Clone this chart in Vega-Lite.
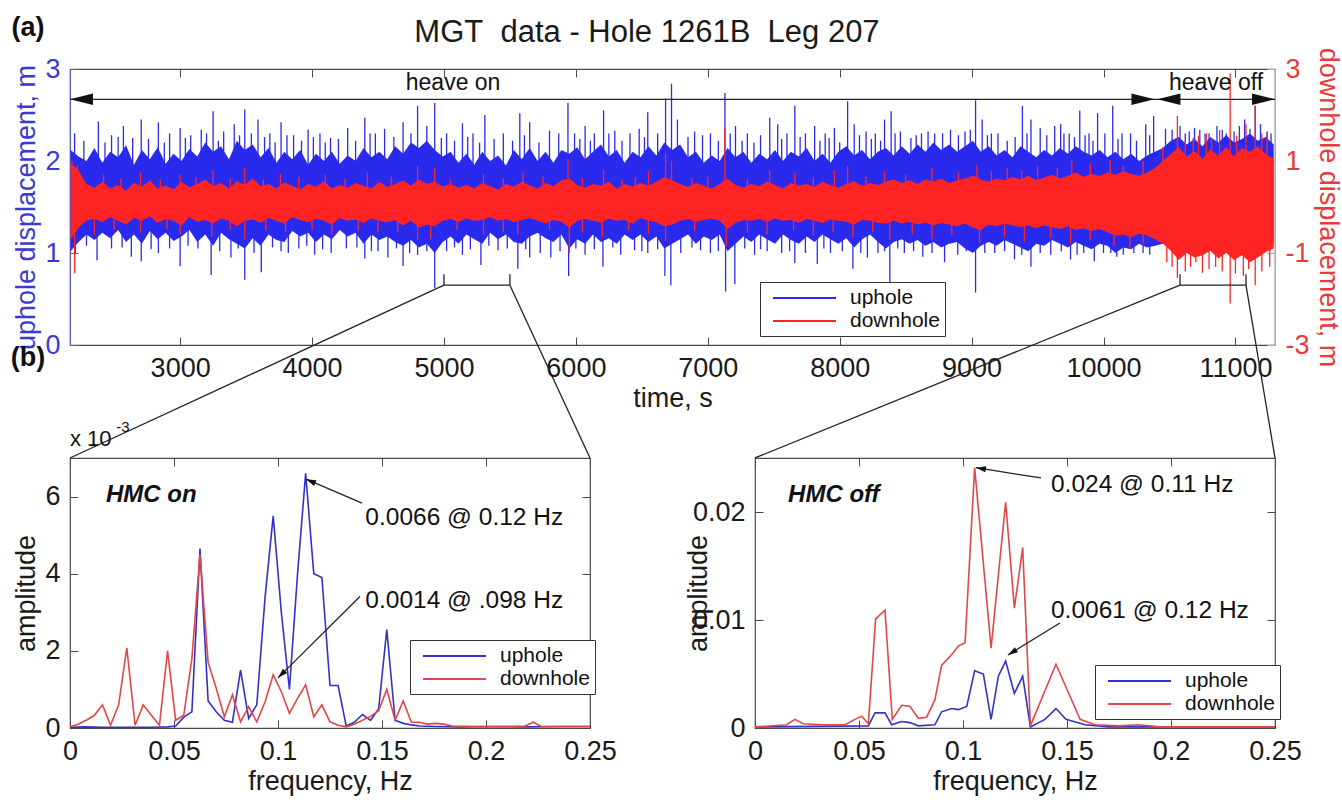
{
"$schema": "https://vega.github.io/schema/vega-lite/v6.json",
"padding": {"left": 10, "top": 12, "right": 10, "bottom": 10},
"background": "white",
"config": {
  "font": "Liberation Sans",
  "view": {"stroke": "#4a4a4a", "strokeWidth": 1.2},
  "axis": {"grid": false, "labelFlush": false, "labelFontSize": 27, "titleFontSize": 27, "titleFontWeight": "normal", "labelColor": "#1a1a1a", "titleColor": "#1a1a1a", "domainColor": "#4a4a4a", "tickColor": "#4a4a4a", "tickSize": -8, "labelPadding": 18, "titlePadding": 4, "labelFont": "Liberation Sans", "titleFont": "Liberation Sans"},
  "legend": {"symbolType": "M-0.3,0L6,0", "symbolStrokeWidth": 2, "symbolSize": 400, "labelFontSize": 21, "labelFont": "Liberation Sans", "labelColor": "#111", "strokeColor": "#333", "fillColor": "white", "padding": 5, "rowPadding": 2, "labelOffset": 63}
},
"datasets": {
"band": [
{"t":2170,"uhi":2.12,"ulo":1.02,"dhi":0.95,"dlo":-0.7},
{"t":2230,"uhi":2.05,"ulo":1.12,"dhi":0.8,"dlo":-0.45},
{"t":2290,"uhi":2.0,"ulo":1.2,"dhi":0.5,"dlo":-0.3},
{"t":2350,"uhi":2.14,"ulo":1.14,"dhi":0.42,"dlo":-0.25},
{"t":2410,"uhi":1.98,"ulo":1.22,"dhi":0.55,"dlo":-0.33},
{"t":2470,"uhi":2.1,"ulo":1.16,"dhi":0.4,"dlo":-0.22},
{"t":2530,"uhi":2.04,"ulo":1.25,"dhi":0.48,"dlo":-0.3},
{"t":2590,"uhi":2.17,"ulo":1.12,"dhi":0.36,"dlo":-0.38},
{"t":2650,"uhi":1.96,"ulo":1.2,"dhi":0.52,"dlo":-0.24},
{"t":2710,"uhi":2.12,"ulo":1.1,"dhi":0.44,"dlo":-0.3},
{"t":2770,"uhi":2.02,"ulo":1.24,"dhi":0.58,"dlo":-0.2},
{"t":2830,"uhi":2.15,"ulo":1.15,"dhi":0.4,"dlo":-0.35},
{"t":2890,"uhi":1.97,"ulo":1.22,"dhi":0.47,"dlo":-0.26},
{"t":2950,"uhi":2.08,"ulo":1.13,"dhi":0.38,"dlo":-0.3},
{"t":3010,"uhi":2.0,"ulo":1.18,"dhi":0.55,"dlo":-0.4},
{"t":3070,"uhi":2.13,"ulo":1.25,"dhi":0.43,"dlo":-0.22},
{"t":3130,"uhi":2.05,"ulo":1.12,"dhi":0.5,"dlo":-0.32},
{"t":3190,"uhi":2.2,"ulo":1.2,"dhi":0.6,"dlo":-0.28},
{"t":3250,"uhi":2.1,"ulo":1.08,"dhi":0.45,"dlo":-0.36},
{"t":3310,"uhi":2.16,"ulo":1.22,"dhi":0.52,"dlo":-0.25},
{"t":3370,"uhi":2.02,"ulo":1.15,"dhi":0.41,"dlo":-0.3},
{"t":3430,"uhi":2.22,"ulo":1.1,"dhi":0.56,"dlo":-0.42},
{"t":3490,"uhi":2.12,"ulo":1.05,"dhi":0.48,"dlo":-0.3},
{"t":3550,"uhi":2.18,"ulo":1.16,"dhi":0.62,"dlo":-0.27},
{"t":3610,"uhi":2.04,"ulo":1.08,"dhi":0.45,"dlo":-0.34},
{"t":3670,"uhi":2.14,"ulo":1.2,"dhi":0.5,"dlo":-0.24},
{"t":3730,"uhi":1.98,"ulo":1.14,"dhi":0.4,"dlo":-0.3},
{"t":3790,"uhi":2.1,"ulo":1.12,"dhi":0.53,"dlo":-0.36},
{"t":3850,"uhi":2.02,"ulo":1.24,"dhi":0.46,"dlo":-0.22},
{"t":3910,"uhi":2.12,"ulo":1.18,"dhi":0.38,"dlo":-0.28},
{"t":3970,"uhi":1.96,"ulo":1.22,"dhi":0.5,"dlo":-0.33},
{"t":4030,"uhi":2.08,"ulo":1.12,"dhi":0.44,"dlo":-0.25},
{"t":4090,"uhi":2.0,"ulo":1.2,"dhi":0.55,"dlo":-0.3},
{"t":4150,"uhi":2.1,"ulo":1.15,"dhi":0.4,"dlo":-0.38},
{"t":4210,"uhi":1.97,"ulo":1.25,"dhi":0.48,"dlo":-0.24},
{"t":4270,"uhi":2.06,"ulo":1.18,"dhi":0.42,"dlo":-0.3},
{"t":4330,"uhi":2.0,"ulo":1.22,"dhi":0.52,"dlo":-0.27},
{"t":4390,"uhi":2.14,"ulo":1.1,"dhi":0.46,"dlo":-0.35},
{"t":4450,"uhi":2.04,"ulo":1.2,"dhi":0.4,"dlo":-0.25},
{"t":4510,"uhi":2.1,"ulo":1.14,"dhi":0.55,"dlo":-0.3},
{"t":4570,"uhi":2.02,"ulo":1.18,"dhi":0.44,"dlo":-0.33},
{"t":4630,"uhi":2.16,"ulo":1.12,"dhi":0.5,"dlo":-0.28},
{"t":4690,"uhi":2.08,"ulo":1.08,"dhi":0.58,"dlo":-0.4},
{"t":4750,"uhi":2.2,"ulo":1.14,"dhi":0.46,"dlo":-0.3},
{"t":4810,"uhi":2.14,"ulo":1.06,"dhi":0.6,"dlo":-0.45},
{"t":4870,"uhi":2.22,"ulo":1.1,"dhi":0.5,"dlo":-0.38},
{"t":4930,"uhi":2.12,"ulo":1.0,"dhi":0.55,"dlo":-0.42},
{"t":4990,"uhi":2.05,"ulo":1.12,"dhi":0.44,"dlo":-0.3},
{"t":5050,"uhi":2.1,"ulo":1.18,"dhi":0.5,"dlo":-0.26},
{"t":5110,"uhi":1.98,"ulo":1.1,"dhi":0.42,"dlo":-0.32},
{"t":5170,"uhi":2.08,"ulo":1.2,"dhi":0.48,"dlo":-0.25},
{"t":5230,"uhi":1.96,"ulo":1.15,"dhi":0.4,"dlo":-0.3},
{"t":5290,"uhi":2.1,"ulo":1.1,"dhi":0.52,"dlo":-0.28},
{"t":5350,"uhi":2.0,"ulo":1.22,"dhi":0.45,"dlo":-0.22},
{"t":5410,"uhi":2.06,"ulo":1.15,"dhi":0.38,"dlo":-0.3},
{"t":5470,"uhi":1.95,"ulo":1.2,"dhi":0.5,"dlo":-0.26},
{"t":5530,"uhi":2.12,"ulo":1.12,"dhi":0.44,"dlo":-0.33},
{"t":5590,"uhi":2.02,"ulo":1.1,"dhi":0.55,"dlo":-0.28},
{"t":5650,"uhi":2.14,"ulo":1.18,"dhi":0.47,"dlo":-0.24},
{"t":5710,"uhi":2.0,"ulo":1.22,"dhi":0.4,"dlo":-0.3},
{"t":5770,"uhi":2.1,"ulo":1.16,"dhi":0.52,"dlo":-0.36},
{"t":5830,"uhi":1.98,"ulo":1.12,"dhi":0.45,"dlo":-0.28},
{"t":5890,"uhi":2.12,"ulo":1.2,"dhi":0.58,"dlo":-0.32},
{"t":5950,"uhi":2.08,"ulo":1.05,"dhi":0.62,"dlo":-0.45},
{"t":6010,"uhi":2.15,"ulo":1.15,"dhi":0.48,"dlo":-0.3},
{"t":6070,"uhi":2.02,"ulo":1.1,"dhi":0.42,"dlo":-0.26},
{"t":6130,"uhi":2.1,"ulo":1.2,"dhi":0.5,"dlo":-0.3},
{"t":6190,"uhi":2.18,"ulo":1.12,"dhi":0.46,"dlo":-0.34},
{"t":6250,"uhi":2.05,"ulo":1.16,"dhi":0.55,"dlo":-0.25},
{"t":6310,"uhi":2.12,"ulo":1.1,"dhi":0.4,"dlo":-0.3},
{"t":6370,"uhi":1.98,"ulo":1.2,"dhi":0.5,"dlo":-0.28},
{"t":6430,"uhi":2.1,"ulo":1.14,"dhi":0.44,"dlo":-0.36},
{"t":6490,"uhi":2.04,"ulo":1.2,"dhi":0.52,"dlo":-0.24},
{"t":6550,"uhi":2.16,"ulo":1.12,"dhi":0.46,"dlo":-0.3},
{"t":6610,"uhi":2.06,"ulo":1.18,"dhi":0.55,"dlo":-0.33},
{"t":6670,"uhi":2.2,"ulo":1.05,"dhi":0.65,"dlo":-0.42},
{"t":6730,"uhi":2.12,"ulo":1.1,"dhi":0.58,"dlo":-0.38},
{"t":6790,"uhi":2.18,"ulo":1.15,"dhi":0.5,"dlo":-0.3},
{"t":6850,"uhi":2.04,"ulo":1.2,"dhi":0.44,"dlo":-0.26},
{"t":6910,"uhi":2.1,"ulo":1.1,"dhi":0.52,"dlo":-0.32},
{"t":6970,"uhi":1.98,"ulo":1.18,"dhi":0.46,"dlo":-0.28},
{"t":7030,"uhi":2.06,"ulo":1.14,"dhi":0.4,"dlo":-0.25},
{"t":7090,"uhi":2.0,"ulo":1.2,"dhi":0.5,"dlo":-0.3},
{"t":7150,"uhi":2.14,"ulo":1.02,"dhi":0.62,"dlo":-0.48},
{"t":7210,"uhi":2.04,"ulo":1.1,"dhi":0.48,"dlo":-0.35},
{"t":7270,"uhi":2.1,"ulo":1.18,"dhi":0.42,"dlo":-0.28},
{"t":7330,"uhi":1.98,"ulo":1.12,"dhi":0.5,"dlo":-0.3},
{"t":7390,"uhi":2.08,"ulo":1.2,"dhi":0.45,"dlo":-0.26},
{"t":7450,"uhi":2.02,"ulo":1.15,"dhi":0.55,"dlo":-0.32},
{"t":7510,"uhi":2.12,"ulo":1.1,"dhi":0.48,"dlo":-0.25},
{"t":7570,"uhi":2.0,"ulo":1.2,"dhi":0.4,"dlo":-0.3},
{"t":7630,"uhi":2.1,"ulo":1.14,"dhi":0.52,"dlo":-0.28},
{"t":7690,"uhi":2.05,"ulo":1.1,"dhi":0.46,"dlo":-0.34},
{"t":7750,"uhi":2.14,"ulo":1.18,"dhi":0.5,"dlo":-0.26},
{"t":7810,"uhi":2.0,"ulo":1.12,"dhi":0.44,"dlo":-0.3},
{"t":7870,"uhi":2.08,"ulo":1.2,"dhi":0.55,"dlo":-0.35},
{"t":7930,"uhi":1.98,"ulo":1.15,"dhi":0.48,"dlo":-0.27},
{"t":7990,"uhi":2.1,"ulo":1.1,"dhi":0.42,"dlo":-0.3},
{"t":8050,"uhi":2.16,"ulo":1.16,"dhi":0.5,"dlo":-0.32},
{"t":8110,"uhi":2.06,"ulo":1.06,"dhi":0.56,"dlo":-0.38},
{"t":8170,"uhi":2.12,"ulo":1.15,"dhi":0.46,"dlo":-0.28},
{"t":8230,"uhi":2.02,"ulo":1.2,"dhi":0.52,"dlo":-0.3},
{"t":8290,"uhi":2.1,"ulo":1.12,"dhi":0.48,"dlo":-0.34},
{"t":8350,"uhi":2.14,"ulo":1.05,"dhi":0.55,"dlo":-0.36},
{"t":8410,"uhi":2.06,"ulo":1.12,"dhi":0.6,"dlo":-0.3},
{"t":8470,"uhi":2.16,"ulo":1.15,"dhi":0.52,"dlo":-0.36},
{"t":8530,"uhi":2.08,"ulo":1.1,"dhi":0.58,"dlo":-0.32},
{"t":8590,"uhi":2.18,"ulo":1.14,"dhi":0.5,"dlo":-0.38},
{"t":8650,"uhi":2.1,"ulo":1.08,"dhi":0.6,"dlo":-0.34},
{"t":8710,"uhi":2.2,"ulo":1.12,"dhi":0.55,"dlo":-0.4},
{"t":8770,"uhi":2.12,"ulo":1.06,"dhi":0.62,"dlo":-0.35},
{"t":8830,"uhi":2.18,"ulo":1.1,"dhi":0.52,"dlo":-0.38},
{"t":8890,"uhi":2.1,"ulo":1.12,"dhi":0.58,"dlo":-0.42},
{"t":8950,"uhi":2.16,"ulo":1.05,"dhi":0.62,"dlo":-0.36},
{"t":9010,"uhi":2.22,"ulo":1.0,"dhi":0.68,"dlo":-0.45},
{"t":9070,"uhi":2.1,"ulo":1.08,"dhi":0.6,"dlo":-0.5},
{"t":9130,"uhi":2.16,"ulo":1.12,"dhi":0.55,"dlo":-0.38},
{"t":9190,"uhi":2.06,"ulo":1.08,"dhi":0.62,"dlo":-0.42},
{"t":9250,"uhi":2.12,"ulo":1.14,"dhi":0.58,"dlo":-0.36},
{"t":9310,"uhi":2.04,"ulo":1.1,"dhi":0.65,"dlo":-0.4},
{"t":9370,"uhi":2.16,"ulo":1.06,"dhi":0.6,"dlo":-0.44},
{"t":9430,"uhi":2.1,"ulo":1.02,"dhi":0.68,"dlo":-0.4},
{"t":9490,"uhi":2.04,"ulo":1.1,"dhi":0.58,"dlo":-0.46},
{"t":9550,"uhi":2.12,"ulo":1.08,"dhi":0.64,"dlo":-0.4},
{"t":9610,"uhi":2.06,"ulo":1.14,"dhi":0.7,"dlo":-0.44},
{"t":9670,"uhi":2.14,"ulo":1.1,"dhi":0.62,"dlo":-0.48},
{"t":9730,"uhi":2.08,"ulo":1.06,"dhi":0.68,"dlo":-0.42},
{"t":9790,"uhi":2.16,"ulo":1.12,"dhi":0.75,"dlo":-0.5},
{"t":9850,"uhi":2.1,"ulo":1.08,"dhi":0.66,"dlo":-0.46},
{"t":9910,"uhi":2.06,"ulo":1.04,"dhi":0.72,"dlo":-0.52},
{"t":9970,"uhi":2.12,"ulo":1.1,"dhi":0.68,"dlo":-0.48},
{"t":10030,"uhi":2.04,"ulo":1.08,"dhi":0.75,"dlo":-0.55},
{"t":10090,"uhi":2.1,"ulo":1.0,"dhi":0.7,"dlo":-0.62},
{"t":10150,"uhi":2.02,"ulo":1.06,"dhi":0.78,"dlo":-0.6},
{"t":10210,"uhi":2.08,"ulo":1.04,"dhi":0.72,"dlo":-0.66},
{"t":10270,"uhi":2.0,"ulo":1.1,"dhi":0.68,"dlo":-0.58},
{"t":10330,"uhi":2.06,"ulo":1.06,"dhi":0.75,"dlo":-0.62},
{"t":10390,"uhi":2.1,"ulo":1.08,"dhi":0.85,"dlo":-0.7},
{"t":10450,"uhi":2.14,"ulo":1.1,"dhi":1.0,"dlo":-0.8},
{"t":10510,"uhi":2.22,"ulo":1.1,"dhi":1.15,"dlo":-0.95},
{"t":10570,"uhi":2.26,"ulo":1.1,"dhi":1.3,"dlo":-1.15},
{"t":10630,"uhi":2.18,"ulo":1.1,"dhi":1.1,"dlo":-1.0},
{"t":10690,"uhi":2.24,"ulo":1.1,"dhi":1.22,"dlo":-1.1},
{"t":10750,"uhi":2.16,"ulo":1.1,"dhi":1.05,"dlo":-1.05},
{"t":10810,"uhi":2.26,"ulo":1.1,"dhi":1.25,"dlo":-0.95},
{"t":10870,"uhi":2.2,"ulo":1.1,"dhi":1.12,"dlo":-1.12},
{"t":10930,"uhi":2.28,"ulo":1.1,"dhi":1.3,"dlo":-1.0},
{"t":10990,"uhi":2.2,"ulo":1.1,"dhi":1.1,"dlo":-1.15},
{"t":11050,"uhi":2.24,"ulo":1.1,"dhi":1.28,"dlo":-1.05},
{"t":11110,"uhi":2.3,"ulo":1.1,"dhi":1.2,"dlo":-1.2},
{"t":11170,"uhi":2.22,"ulo":1.1,"dhi":1.32,"dlo":-1.1},
{"t":11230,"uhi":2.26,"ulo":1.1,"dhi":1.15,"dlo":-0.98},
{"t":11290,"uhi":2.18,"ulo":1.1,"dhi":1.05,"dlo":-0.9}
],
"spk": [
{"t":2200,"v":2.3,"s":"u"},{"t":2380,"v":2.43,"s":"u"},{"t":2480,"v":2.28,"s":"u"},{"t":2570,"v":2.38,"s":"u"},{"t":2640,"v":2.25,"s":"u"},{"t":2705,"v":2.45,"s":"u"},{"t":2835,"v":2.42,"s":"u"},{"t":2920,"v":2.3,"s":"u"},{"t":3000,"v":2.36,"s":"u"},{"t":3080,"v":2.28,"s":"u"},{"t":3160,"v":2.34,"s":"u"},{"t":3250,"v":2.54,"s":"u"},{"t":3330,"v":2.32,"s":"u"},{"t":3410,"v":2.4,"s":"u"},{"t":3490,"v":2.56,"s":"u"},{"t":3590,"v":2.45,"s":"u"},{"t":3680,"v":2.3,"s":"u"},{"t":3765,"v":2.42,"s":"u"},{"t":3860,"v":2.28,"s":"u"},{"t":3970,"v":2.34,"s":"u"},{"t":4060,"v":2.3,"s":"u"},{"t":4140,"v":2.25,"s":"u"},{"t":4270,"v":2.36,"s":"u"},{"t":4400,"v":2.47,"s":"u"},{"t":4480,"v":2.3,"s":"u"},{"t":4550,"v":2.35,"s":"u"},{"t":4690,"v":2.42,"s":"u"},{"t":4800,"v":2.6,"s":"u"},{"t":4870,"v":2.38,"s":"u"},{"t":4930,"v":2.63,"s":"u"},{"t":5020,"v":2.3,"s":"u"},{"t":5140,"v":2.41,"s":"u"},{"t":5220,"v":2.3,"s":"u"},{"t":5310,"v":2.5,"s":"u"},{"t":5450,"v":2.3,"s":"u"},{"t":5575,"v":2.52,"s":"u"},{"t":5650,"v":2.42,"s":"u"},{"t":5800,"v":2.33,"s":"u"},{"t":5870,"v":2.3,"s":"u"},{"t":5940,"v":2.63,"s":"u"},{"t":6070,"v":2.38,"s":"u"},{"t":6140,"v":2.3,"s":"u"},{"t":6210,"v":2.55,"s":"u"},{"t":6295,"v":2.33,"s":"u"},{"t":6410,"v":2.3,"s":"u"},{"t":6480,"v":2.35,"s":"u"},{"t":6545,"v":2.53,"s":"u"},{"t":6680,"v":2.68,"s":"u"},{"t":6725,"v":2.84,"s":"u"},{"t":6770,"v":2.45,"s":"u"},{"t":6900,"v":2.32,"s":"u"},{"t":6960,"v":2.28,"s":"u"},{"t":7020,"v":2.3,"s":"u"},{"t":7130,"v":2.74,"s":"u"},{"t":7210,"v":2.38,"s":"u"},{"t":7300,"v":2.3,"s":"u"},{"t":7400,"v":2.28,"s":"u"},{"t":7470,"v":2.47,"s":"u"},{"t":7530,"v":2.4,"s":"u"},{"t":7600,"v":2.3,"s":"u"},{"t":7660,"v":2.6,"s":"u"},{"t":7740,"v":2.3,"s":"u"},{"t":7810,"v":2.38,"s":"u"},{"t":7890,"v":2.3,"s":"u"},{"t":7960,"v":2.36,"s":"u"},{"t":8060,"v":2.65,"s":"u"},{"t":8110,"v":2.4,"s":"u"},{"t":8200,"v":2.32,"s":"u"},{"t":8270,"v":2.3,"s":"u"},{"t":8340,"v":2.45,"s":"u"},{"t":8390,"v":2.54,"s":"u"},{"t":8460,"v":2.32,"s":"u"},{"t":8540,"v":2.25,"s":"u"},{"t":8620,"v":2.3,"s":"u"},{"t":8720,"v":2.3,"s":"u"},{"t":8840,"v":2.34,"s":"u"},{"t":8950,"v":2.32,"s":"u"},{"t":9030,"v":2.66,"s":"u"},{"t":9080,"v":2.45,"s":"u"},{"t":9200,"v":2.3,"s":"u"},{"t":9270,"v":2.22,"s":"u"},{"t":9385,"v":2.6,"s":"u"},{"t":9450,"v":2.45,"s":"u"},{"t":9520,"v":2.36,"s":"u"},{"t":9630,"v":2.38,"s":"u"},{"t":9675,"v":2.4,"s":"u"},{"t":9740,"v":2.3,"s":"u"},{"t":9820,"v":2.55,"s":"u"},{"t":9890,"v":2.3,"s":"u"},{"t":9955,"v":2.52,"s":"u"},{"t":10070,"v":2.6,"s":"u"},{"t":10140,"v":2.3,"s":"u"},{"t":10205,"v":2.3,"s":"u"},{"t":10320,"v":2.4,"s":"u"},{"t":10380,"v":2.49,"s":"u"},{"t":10470,"v":2.35,"s":"u"},{"t":10580,"v":2.38,"s":"u"},{"t":10650,"v":2.32,"s":"u"},{"t":10730,"v":2.34,"s":"u"},{"t":10800,"v":2.3,"s":"u"},{"t":10860,"v":2.38,"s":"u"},{"t":10930,"v":2.3,"s":"u"},{"t":11070,"v":2.45,"s":"u"},{"t":11150,"v":2.6,"s":"u"},{"t":11190,"v":2.4,"s":"u"},{"t":11240,"v":2.32,"s":"u"},
{"t":2270,"v":2.22,"s":"u"},{"t":2430,"v":2.2,"s":"u"},{"t":2530,"v":2.26,"s":"u"},{"t":2760,"v":2.24,"s":"u"},{"t":2880,"v":2.2,"s":"u"},{"t":3040,"v":2.25,"s":"u"},{"t":3200,"v":2.3,"s":"u"},{"t":3290,"v":2.22,"s":"u"},{"t":3450,"v":2.28,"s":"u"},{"t":3540,"v":2.3,"s":"u"},{"t":3640,"v":2.26,"s":"u"},{"t":3720,"v":2.2,"s":"u"},{"t":3810,"v":2.28,"s":"u"},{"t":3920,"v":2.22,"s":"u"},{"t":4010,"v":2.26,"s":"u"},{"t":4100,"v":2.2,"s":"u"},{"t":4200,"v":2.24,"s":"u"},{"t":4330,"v":2.22,"s":"u"},{"t":4440,"v":2.3,"s":"u"},{"t":4620,"v":2.26,"s":"u"},{"t":4750,"v":2.3,"s":"u"},{"t":4980,"v":2.25,"s":"u"},{"t":5080,"v":2.22,"s":"u"},{"t":5180,"v":2.26,"s":"u"},{"t":5270,"v":2.2,"s":"u"},{"t":5380,"v":2.24,"s":"u"},{"t":5520,"v":2.22,"s":"u"},{"t":5610,"v":2.28,"s":"u"},{"t":5720,"v":2.2,"s":"u"},{"t":5990,"v":2.3,"s":"u"},{"t":6030,"v":2.24,"s":"u"},{"t":6110,"v":2.22,"s":"u"},{"t":6250,"v":2.3,"s":"u"},{"t":6350,"v":2.22,"s":"u"},{"t":6520,"v":2.26,"s":"u"},{"t":6620,"v":2.3,"s":"u"},{"t":6850,"v":2.26,"s":"u"},{"t":7080,"v":2.22,"s":"u"},{"t":7170,"v":2.3,"s":"u"},{"t":7260,"v":2.22,"s":"u"},{"t":7350,"v":2.2,"s":"u"},{"t":7560,"v":2.24,"s":"u"},{"t":7700,"v":2.26,"s":"u"},{"t":7850,"v":2.22,"s":"u"},{"t":7920,"v":2.25,"s":"u"},{"t":8000,"v":2.2,"s":"u"},{"t":8150,"v":2.28,"s":"u"},{"t":8240,"v":2.24,"s":"u"},{"t":8310,"v":2.22,"s":"u"},{"t":8420,"v":2.3,"s":"u"},{"t":8580,"v":2.28,"s":"u"},{"t":8670,"v":2.32,"s":"u"},{"t":8780,"v":2.3,"s":"u"},{"t":8900,"v":2.28,"s":"u"},{"t":8990,"v":2.34,"s":"u"},{"t":9120,"v":2.28,"s":"u"},{"t":9150,"v":2.3,"s":"u"},{"t":9330,"v":2.26,"s":"u"},{"t":9420,"v":2.3,"s":"u"},{"t":9570,"v":2.28,"s":"u"},{"t":9700,"v":2.3,"s":"u"},{"t":9780,"v":2.26,"s":"u"},{"t":9860,"v":2.28,"s":"u"},{"t":9920,"v":2.22,"s":"u"},{"t":10010,"v":2.3,"s":"u"},{"t":10110,"v":2.24,"s":"u"},{"t":10250,"v":2.22,"s":"u"},{"t":10350,"v":2.28,"s":"u"},{"t":10520,"v":2.34,"s":"u"},{"t":10620,"v":2.3,"s":"u"},{"t":10690,"v":2.36,"s":"u"},{"t":10770,"v":2.3,"s":"u"},{"t":10900,"v":2.34,"s":"u"},{"t":10990,"v":2.32,"s":"u"},{"t":11030,"v":2.38,"s":"u"},{"t":11110,"v":2.35,"s":"u"},{"t":11270,"v":2.3,"s":"u"},
{"t":2205,"v":1.0,"s":"u"},{"t":2370,"v":0.92,"s":"u"},{"t":2480,"v":1.05,"s":"u"},{"t":2630,"v":0.96,"s":"u"},{"t":2705,"v":0.91,"s":"u"},{"t":2835,"v":1.0,"s":"u"},{"t":2920,"v":1.05,"s":"u"},{"t":3000,"v":0.86,"s":"u"},{"t":3135,"v":1.05,"s":"u"},{"t":3235,"v":0.76,"s":"u"},{"t":3385,"v":0.95,"s":"u"},{"t":3490,"v":0.71,"s":"u"},{"t":3615,"v":0.79,"s":"u"},{"t":3765,"v":1.02,"s":"u"},{"t":3820,"v":1.0,"s":"u"},{"t":3900,"v":1.05,"s":"u"},{"t":4020,"v":0.98,"s":"u"},{"t":4145,"v":1.0,"s":"u"},{"t":4260,"v":1.05,"s":"u"},{"t":4400,"v":0.94,"s":"u"},{"t":4500,"v":1.02,"s":"u"},{"t":4575,"v":0.95,"s":"u"},{"t":4690,"v":0.86,"s":"u"},{"t":4800,"v":0.98,"s":"u"},{"t":4930,"v":0.62,"s":"u"},{"t":5020,"v":1.02,"s":"u"},{"t":5140,"v":0.98,"s":"u"},{"t":5280,"v":0.87,"s":"u"},{"t":5410,"v":1.03,"s":"u"},{"t":5480,"v":1.05,"s":"u"},{"t":5560,"v":0.83,"s":"u"},{"t":5650,"v":0.95,"s":"u"},{"t":5730,"v":1.0,"s":"u"},{"t":5810,"v":0.95,"s":"u"},{"t":5945,"v":0.75,"s":"u"},{"t":6070,"v":0.98,"s":"u"},{"t":6205,"v":0.85,"s":"u"},{"t":6340,"v":0.98,"s":"u"},{"t":6445,"v":1.03,"s":"u"},{"t":6545,"v":1.0,"s":"u"},{"t":6675,"v":0.75,"s":"u"},{"t":6720,"v":0.65,"s":"u"},{"t":6795,"v":1.0,"s":"u"},{"t":6945,"v":1.03,"s":"u"},{"t":7020,"v":1.0,"s":"u"},{"t":7135,"v":0.58,"s":"u"},{"t":7205,"v":0.66,"s":"u"},{"t":7355,"v":0.98,"s":"u"},{"t":7450,"v":1.02,"s":"u"},{"t":7560,"v":1.0,"s":"u"},{"t":7660,"v":0.89,"s":"u"},{"t":7740,"v":1.0,"s":"u"},{"t":7830,"v":0.88,"s":"u"},{"t":7930,"v":1.0,"s":"u"},{"t":8020,"v":1.02,"s":"u"},{"t":8100,"v":0.83,"s":"u"},{"t":8210,"v":0.95,"s":"u"},{"t":8290,"v":1.0,"s":"u"},{"t":8380,"v":0.6,"s":"u"},{"t":8490,"v":1.0,"s":"u"},{"t":8630,"v":0.96,"s":"u"},{"t":8795,"v":0.9,"s":"u"},{"t":8895,"v":0.98,"s":"u"},{"t":9030,"v":0.57,"s":"u"},{"t":9175,"v":1.0,"s":"u"},{"t":9325,"v":0.93,"s":"u"},{"t":9450,"v":0.85,"s":"u"},{"t":9600,"v":0.98,"s":"u"},{"t":9750,"v":0.93,"s":"u"},{"t":9850,"v":1.0,"s":"u"},{"t":9930,"v":0.91,"s":"u"},{"t":10055,"v":1.0,"s":"u"},{"t":10150,"v":0.98,"s":"u"},{"t":10300,"v":1.0,"s":"u"},
{"t":2290,"v":1.08,"s":"u"},{"t":2560,"v":1.06,"s":"u"},{"t":2780,"v":1.04,"s":"u"},{"t":3060,"v":1.08,"s":"u"},{"t":3300,"v":1.02,"s":"u"},{"t":3440,"v":1.05,"s":"u"},{"t":3560,"v":1.0,"s":"u"},{"t":3700,"v":1.06,"s":"u"},{"t":3960,"v":1.08,"s":"u"},{"t":4080,"v":1.04,"s":"u"},{"t":4340,"v":1.06,"s":"u"},{"t":4450,"v":1.02,"s":"u"},{"t":4640,"v":1.05,"s":"u"},{"t":4740,"v":1.0,"s":"u"},{"t":4870,"v":1.02,"s":"u"},{"t":5080,"v":1.06,"s":"u"},{"t":5200,"v":1.04,"s":"u"},{"t":5340,"v":1.08,"s":"u"},{"t":5620,"v":1.04,"s":"u"},{"t":5880,"v":1.02,"s":"u"},{"t":6000,"v":1.05,"s":"u"},{"t":6140,"v":1.04,"s":"u"},{"t":6280,"v":1.06,"s":"u"},{"t":6500,"v":1.02,"s":"u"},{"t":6620,"v":1.04,"s":"u"},{"t":6880,"v":1.06,"s":"u"},{"t":7080,"v":1.02,"s":"u"},{"t":7280,"v":1.05,"s":"u"},{"t":7400,"v":1.04,"s":"u"},{"t":7620,"v":1.02,"s":"u"},{"t":7880,"v":1.05,"s":"u"},{"t":8160,"v":1.0,"s":"u"},{"t":8340,"v":1.02,"s":"u"},{"t":8440,"v":1.05,"s":"u"},{"t":8560,"v":1.02,"s":"u"},{"t":8700,"v":1.0,"s":"u"},{"t":8960,"v":1.02,"s":"u"},{"t":9100,"v":1.0,"s":"u"},{"t":9250,"v":1.02,"s":"u"},{"t":9380,"v":0.98,"s":"u"},{"t":9520,"v":1.0,"s":"u"},{"t":9680,"v":1.02,"s":"u"},{"t":9800,"v":0.98,"s":"u"},{"t":10000,"v":1.0,"s":"u"},{"t":10100,"v":0.96,"s":"u"},{"t":10230,"v":1.0,"s":"u"},{"t":10350,"v":0.98,"s":"u"},
{"t":2180,"v":1.0,"s":"d"},{"t":2220,"v":0.9,"s":"d"},{"t":2420,"v":0.7,"s":"d"},{"t":2700,"v":0.75,"s":"d"},{"t":3000,"v":0.7,"s":"d"},{"t":3250,"v":0.8,"s":"d"},{"t":3490,"v":0.85,"s":"d"},{"t":3760,"v":0.72,"s":"d"},{"t":4100,"v":0.7,"s":"d"},{"t":4420,"v":0.75,"s":"d"},{"t":4800,"v":0.9,"s":"d"},{"t":4930,"v":0.85,"s":"d"},{"t":5300,"v":0.72,"s":"d"},{"t":5600,"v":0.75,"s":"d"},{"t":5940,"v":1.03,"s":"d"},{"t":6210,"v":0.8,"s":"d"},{"t":6550,"v":0.78,"s":"d"},{"t":6680,"v":1.17,"s":"d"},{"t":6725,"v":1.0,"s":"d"},{"t":7130,"v":1.72,"s":"d"},{"t":7470,"v":0.8,"s":"d"},{"t":7660,"v":0.75,"s":"d"},{"t":7960,"v":0.8,"s":"d"},{"t":8060,"v":0.9,"s":"d"},{"t":8340,"v":0.75,"s":"d"},{"t":8700,"v":0.85,"s":"d"},{"t":9040,"v":0.92,"s":"d"},{"t":9270,"v":0.85,"s":"d"},{"t":9500,"v":0.9,"s":"d"},{"t":9760,"v":1.0,"s":"d"},{"t":9900,"v":0.95,"s":"d"},{"t":10050,"v":1.02,"s":"d"},{"t":10300,"v":1.0,"s":"d"},{"t":10560,"v":1.98,"s":"d"},{"t":10680,"v":1.5,"s":"d"},{"t":10780,"v":1.6,"s":"d"},{"t":10880,"v":1.67,"s":"d"},{"t":10960,"v":2.9,"s":"d"},{"t":11080,"v":1.8,"s":"d"},{"t":11150,"v":2.2,"s":"d"},{"t":11240,"v":1.6,"s":"d"},
{"t":2550,"v":0.62,"s":"d"},{"t":2850,"v":0.6,"s":"d"},{"t":3120,"v":0.65,"s":"d"},{"t":3380,"v":0.62,"s":"d"},{"t":3630,"v":0.6,"s":"d"},{"t":3900,"v":0.65,"s":"d"},{"t":4250,"v":0.62,"s":"d"},{"t":4600,"v":0.66,"s":"d"},{"t":5050,"v":0.6,"s":"d"},{"t":5450,"v":0.62,"s":"d"},{"t":5750,"v":0.66,"s":"d"},{"t":6050,"v":0.62,"s":"d"},{"t":6350,"v":0.6,"s":"d"},{"t":6450,"v":0.65,"s":"d"},{"t":6880,"v":0.62,"s":"d"},{"t":7000,"v":0.66,"s":"d"},{"t":7300,"v":0.6,"s":"d"},{"t":7800,"v":0.64,"s":"d"},{"t":8200,"v":0.66,"s":"d"},{"t":8500,"v":0.7,"s":"d"},{"t":8900,"v":0.75,"s":"d"},{"t":9150,"v":0.78,"s":"d"},{"t":9380,"v":0.8,"s":"d"},{"t":9650,"v":0.85,"s":"d"},{"t":10150,"v":0.9,"s":"d"},{"t":10450,"v":1.3,"s":"d"},{"t":10620,"v":1.45,"s":"d"},{"t":10720,"v":1.55,"s":"d"},{"t":10820,"v":1.5,"s":"d"},{"t":11010,"v":1.55,"s":"d"},{"t":11200,"v":1.6,"s":"d"},
{"t":2200,"v":-1.44,"s":"d"},{"t":2350,"v":-0.6,"s":"d"},{"t":2700,"v":-0.55,"s":"d"},{"t":3000,"v":-0.6,"s":"d"},{"t":3240,"v":-0.65,"s":"d"},{"t":3490,"v":-0.7,"s":"d"},{"t":3800,"v":-0.55,"s":"d"},{"t":4150,"v":-0.6,"s":"d"},{"t":4500,"v":-0.55,"s":"d"},{"t":4800,"v":-0.72,"s":"d"},{"t":4900,"v":-0.7,"s":"d"},{"t":5300,"v":-0.6,"s":"d"},{"t":5560,"v":-0.6,"s":"d"},{"t":5950,"v":-1.0,"s":"d"},{"t":6200,"v":-0.65,"s":"d"},{"t":6680,"v":-0.75,"s":"d"},{"t":7140,"v":-0.85,"s":"d"},{"t":7450,"v":-0.6,"s":"d"},{"t":7800,"v":-0.62,"s":"d"},{"t":8100,"v":-0.65,"s":"d"},{"t":8380,"v":-0.7,"s":"d"},{"t":8700,"v":-0.7,"s":"d"},{"t":9060,"v":-0.8,"s":"d"},{"t":9400,"v":-0.75,"s":"d"},{"t":9750,"v":-0.8,"s":"d"},{"t":10080,"v":-0.85,"s":"d"},{"t":10200,"v":-0.9,"s":"d"},{"t":10480,"v":-1.2,"s":"d"},{"t":10560,"v":-1.54,"s":"d"},{"t":10660,"v":-1.3,"s":"d"},{"t":10750,"v":-1.43,"s":"d"},{"t":10850,"v":-1.3,"s":"d"},{"t":10960,"v":-2.1,"s":"d"},{"t":11060,"v":-1.5,"s":"d"},{"t":11150,"v":-1.7,"s":"d"},{"t":11260,"v":-1.3,"s":"d"},
{"t":2500,"v":-0.5,"s":"d"},{"t":2900,"v":-0.48,"s":"d"},{"t":3380,"v":-0.5,"s":"d"},{"t":3650,"v":-0.52,"s":"d"},{"t":4000,"v":-0.5,"s":"d"},{"t":4350,"v":-0.52,"s":"d"},{"t":4650,"v":-0.55,"s":"d"},{"t":5100,"v":-0.5,"s":"d"},{"t":5450,"v":-0.55,"s":"d"},{"t":5800,"v":-0.5,"s":"d"},{"t":6050,"v":-0.55,"s":"d"},{"t":6400,"v":-0.5,"s":"d"},{"t":6550,"v":-0.58,"s":"d"},{"t":6900,"v":-0.52,"s":"d"},{"t":7300,"v":-0.55,"s":"d"},{"t":7650,"v":-0.5,"s":"d"},{"t":7950,"v":-0.55,"s":"d"},{"t":8250,"v":-0.55,"s":"d"},{"t":8550,"v":-0.6,"s":"d"},{"t":8850,"v":-0.62,"s":"d"},{"t":9250,"v":-0.65,"s":"d"},{"t":9600,"v":-0.68,"s":"d"},{"t":9900,"v":-0.7,"s":"d"},{"t":10300,"v":-0.8,"s":"d"},{"t":10520,"v":-1.3,"s":"d"},{"t":10620,"v":-1.4,"s":"d"},{"t":10700,"v":-1.2,"s":"d"},{"t":10800,"v":-1.35,"s":"d"},{"t":10900,"v":-1.4,"s":"d"},{"t":11000,"v":-1.45,"s":"d"},{"t":11100,"v":-1.35,"s":"d"},{"t":11200,"v":-1.4,"s":"d"}
],
"on": [
{"f":0,"a":0.00002,"s":"uphole"},{"f":0.0078,"a":0.00003,"s":"uphole"},{"f":0.0156,"a":0.00002,"s":"uphole"},{"f":0.0234,"a":0.00002,"s":"uphole"},{"f":0.0313,"a":0.00002,"s":"uphole"},{"f":0.0391,"a":0.00002,"s":"uphole"},{"f":0.0469,"a":0.00003,"s":"uphole"},{"f":0.0508,"a":0.00005,"s":"uphole"},{"f":0.0547,"a":0.00028,"s":"uphole"},{"f":0.0586,"a":0.00042,"s":"uphole"},{"f":0.0625,"a":0.00465,"s":"uphole"},{"f":0.0664,"a":0.0007,"s":"uphole"},{"f":0.0703,"a":0.00042,"s":"uphole"},{"f":0.0742,"a":0.0002,"s":"uphole"},{"f":0.0781,"a":0.00015,"s":"uphole"},{"f":0.082,"a":0.0015,"s":"uphole"},{"f":0.0859,"a":0.00025,"s":"uphole"},{"f":0.0898,"a":0.0006,"s":"uphole"},{"f":0.0938,"a":0.0034,"s":"uphole"},{"f":0.0977,"a":0.0055,"s":"uphole"},{"f":0.1016,"a":0.003,"s":"uphole"},{"f":0.1055,"a":0.001,"s":"uphole"},{"f":0.1094,"a":0.004,"s":"uphole"},{"f":0.1133,"a":0.0066,"s":"uphole"},{"f":0.1172,"a":0.004,"s":"uphole"},{"f":0.1211,"a":0.0039,"s":"uphole"},{"f":0.125,"a":0.0011,"s":"uphole"},{"f":0.1289,"a":0.0011,"s":"uphole"},{"f":0.1328,"a":0.00005,"s":"uphole"},{"f":0.1367,"a":0.00015,"s":"uphole"},{"f":0.1406,"a":0.00035,"s":"uphole"},{"f":0.1445,"a":0.0002,"s":"uphole"},{"f":0.1484,"a":0.0005,"s":"uphole"},{"f":0.1523,"a":0.00255,"s":"uphole"},{"f":0.1563,"a":0.0002,"s":"uphole"},{"f":0.1602,"a":0.00012,"s":"uphole"},{"f":0.1641,"a":0.00008,"s":"uphole"},{"f":0.168,"a":0.00005,"s":"uphole"},{"f":0.1758,"a":0.00004,"s":"uphole"},{"f":0.1875,"a":0.00003,"s":"uphole"},{"f":0.2031,"a":0.00004,"s":"uphole"},{"f":0.2188,"a":0.00003,"s":"uphole"},{"f":0.2344,"a":0.00004,"s":"uphole"},{"f":0.25,"a":0.00004,"s":"uphole"},
{"f":0,"a":0.00003,"s":"downhole"},{"f":0.0039,"a":0.0001,"s":"downhole"},{"f":0.0078,"a":0.0002,"s":"downhole"},{"f":0.0117,"a":0.00033,"s":"downhole"},{"f":0.0156,"a":0.0006,"s":"downhole"},{"f":0.0195,"a":0.00007,"s":"downhole"},{"f":0.0234,"a":0.0006,"s":"downhole"},{"f":0.0273,"a":0.00208,"s":"downhole"},{"f":0.0313,"a":0.00007,"s":"downhole"},{"f":0.0352,"a":0.0006,"s":"downhole"},{"f":0.0391,"a":0.00033,"s":"downhole"},{"f":0.043,"a":0.00007,"s":"downhole"},{"f":0.0469,"a":0.002,"s":"downhole"},{"f":0.0508,"a":0.0002,"s":"downhole"},{"f":0.0547,"a":0.00033,"s":"downhole"},{"f":0.0586,"a":0.0018,"s":"downhole"},{"f":0.0625,"a":0.0045,"s":"downhole"},{"f":0.0664,"a":0.0017,"s":"downhole"},{"f":0.0703,"a":0.00103,"s":"downhole"},{"f":0.0742,"a":0.00029,"s":"downhole"},{"f":0.0781,"a":0.00086,"s":"downhole"},{"f":0.082,"a":0.00016,"s":"downhole"},{"f":0.0859,"a":0.00055,"s":"downhole"},{"f":0.0898,"a":0.00016,"s":"downhole"},{"f":0.0938,"a":0.00068,"s":"downhole"},{"f":0.0977,"a":0.00138,"s":"downhole"},{"f":0.1016,"a":0.00094,"s":"downhole"},{"f":0.1055,"a":0.00038,"s":"downhole"},{"f":0.1094,"a":0.00077,"s":"downhole"},{"f":0.1133,"a":0.00112,"s":"downhole"},{"f":0.1172,"a":0.00029,"s":"downhole"},{"f":0.1211,"a":0.0006,"s":"downhole"},{"f":0.125,"a":0.00016,"s":"downhole"},{"f":0.1289,"a":0.00007,"s":"downhole"},{"f":0.1328,"a":0.00003,"s":"downhole"},{"f":0.1367,"a":0.0001,"s":"downhole"},{"f":0.1406,"a":0.0002,"s":"downhole"},{"f":0.1445,"a":0.0003,"s":"downhole"},{"f":0.1484,"a":0.00045,"s":"downhole"},{"f":0.1523,"a":0.001,"s":"downhole"},{"f":0.1563,"a":0.0002,"s":"downhole"},{"f":0.1602,"a":0.0007,"s":"downhole"},{"f":0.1641,"a":0.00015,"s":"downhole"},{"f":0.168,"a":0.00015,"s":"downhole"},{"f":0.1719,"a":0.0001,"s":"downhole"},{"f":0.1758,"a":0.00012,"s":"downhole"},{"f":0.1797,"a":0.0001,"s":"downhole"},{"f":0.1836,"a":0.00005,"s":"downhole"},{"f":0.1953,"a":0.00004,"s":"downhole"},{"f":0.2109,"a":0.00004,"s":"downhole"},{"f":0.2188,"a":0.00005,"s":"downhole"},{"f":0.2227,"a":0.00015,"s":"downhole"},{"f":0.2266,"a":0.00004,"s":"downhole"},{"f":0.2383,"a":0.00004,"s":"downhole"},{"f":0.25,"a":0.00004,"s":"downhole"}
],
"off": [
{"f":0,"a":0.0001,"s":"uphole"},{"f":0.0545,"a":0.0002,"s":"uphole"},{"f":0.0577,"a":0.0014,"s":"uphole"},{"f":0.0625,"a":0.0014,"s":"uphole"},{"f":0.0657,"a":0.0003,"s":"uphole"},{"f":0.0705,"a":0.0006,"s":"uphole"},{"f":0.0745,"a":0.0005,"s":"uphole"},{"f":0.0785,"a":0.0002,"s":"uphole"},{"f":0.0865,"a":0.0003,"s":"uphole"},{"f":0.0897,"a":0.0015,"s":"uphole"},{"f":0.0946,"a":0.0018,"s":"uphole"},{"f":0.0978,"a":0.0017,"s":"uphole"},{"f":0.1018,"a":0.002,"s":"uphole"},{"f":0.1056,"a":0.0053,"s":"uphole"},{"f":0.1098,"a":0.005,"s":"uphole"},{"f":0.1135,"a":0.0008,"s":"uphole"},{"f":0.117,"a":0.0048,"s":"uphole"},{"f":0.1205,"a":0.0062,"s":"uphole"},{"f":0.1247,"a":0.0032,"s":"uphole"},{"f":0.1287,"a":0.0048,"s":"uphole"},{"f":0.1324,"a":0.0001,"s":"uphole"},{"f":0.1394,"a":0.0008,"s":"uphole"},{"f":0.1447,"a":0.0018,"s":"uphole"},{"f":0.1495,"a":0.0008,"s":"uphole"},{"f":0.1587,"a":0.0003,"s":"uphole"},{"f":0.17,"a":0.0001,"s":"uphole"},{"f":0.25,"a":0.0001,"s":"uphole"},
{"f":0,"a":0.0001,"s":"downhole"},{"f":0.0152,"a":0.0003,"s":"downhole"},{"f":0.0192,"a":0.0008,"s":"downhole"},{"f":0.0232,"a":0.0004,"s":"downhole"},{"f":0.032,"a":0.0003,"s":"downhole"},{"f":0.0433,"a":0.0003,"s":"downhole"},{"f":0.0481,"a":0.0008,"s":"downhole"},{"f":0.0513,"a":0.0011,"s":"downhole"},{"f":0.0545,"a":0.0004,"s":"downhole"},{"f":0.058,"a":0.0101,"s":"downhole"},{"f":0.0625,"a":0.0109,"s":"downhole"},{"f":0.066,"a":0.0008,"s":"downhole"},{"f":0.0705,"a":0.0021,"s":"downhole"},{"f":0.0745,"a":0.002,"s":"downhole"},{"f":0.0785,"a":0.0009,"s":"downhole"},{"f":0.0825,"a":0.001,"s":"downhole"},{"f":0.0865,"a":0.0026,"s":"downhole"},{"f":0.0897,"a":0.0058,"s":"downhole"},{"f":0.0946,"a":0.0068,"s":"downhole"},{"f":0.0978,"a":0.0076,"s":"downhole"},{"f":0.101,"a":0.0079,"s":"downhole"},{"f":0.1056,"a":0.0241,"s":"downhole"},{"f":0.1135,"a":0.0074,"s":"downhole"},{"f":0.1205,"a":0.0209,"s":"downhole"},{"f":0.1247,"a":0.0111,"s":"downhole"},{"f":0.1287,"a":0.0167,"s":"downhole"},{"f":0.1324,"a":0.0002,"s":"downhole"},{"f":0.1447,"a":0.0059,"s":"downhole"},{"f":0.1563,"a":0.0008,"s":"downhole"},{"f":0.1635,"a":0.0003,"s":"downhole"},{"f":0.175,"a":0.0002,"s":"downhole"},{"f":0.184,"a":0.0003,"s":"downhole"},{"f":0.195,"a":0.0001,"s":"downhole"},{"f":0.25,"a":0.0001,"s":"downhole"}
]
},
"bounds": "flush",
"spacing": 113,
"resolve": {"scale": {"color": "independent"}},
"vconcat": [
{
 "width": 1205, "height": 276,
 "layer": [
  {"layer": [
    {"data": {"name": "band"}, "mark": {"type": "area", "color": "#2a2aee", "opacity": 1},
     "encoding": {
       "x": {"field": "t", "type": "quantitative", "scale": {"domain": [2165, 11300], "nice": false, "zero": false}, "axis": {"values": [3000,4000,5000,6000,7000,8000,9000,10000,11000], "format": "d", "title": "time, s", "domain": false}},
       "y": {"field": "uhi", "type": "quantitative", "scale": {"domain": [0, 3], "nice": false}, "axis": {"values": [0,1,2,3], "format": "d", "title": "uphole displacement, m", "labelColor": "#3a3ad0", "titleColor": "#3a3ad0", "domainColor": "#5a5ac8", "tickColor": "#5a5ac8"}},
       "y2": {"field": "ulo"}}},
    {"data": {"name": "spk"}, "transform": [{"filter": "datum.s == 'u'"}], "mark": {"type": "rule", "strokeWidth": 1.3},
     "encoding": {"x": {"field": "t", "type": "quantitative", "scale": {"domain": [2165, 11300], "nice": false, "zero": false}}, "y": {"field": "v", "type": "quantitative"}, "y2": {"datum": 1.6},
       "color": {"datum": "uphole", "type": "nominal", "scale": {"domain": ["uphole", "downhole"], "range": ["#2a2aee", "#ff2424"]}, "legend": {"title": null, "orient": "none", "legendX": 690, "legendY": 213}}}}
  ]},
  {"layer": [
    {"data": {"name": "band"}, "mark": {"type": "area", "color": "#ff2424", "opacity": 1},
     "encoding": {
       "x": {"field": "t", "type": "quantitative", "scale": {"domain": [2165, 11300], "nice": false, "zero": false}, "axis": {"orient": "top", "values": [3000,4000,5000,6000,7000,8000,9000,10000,11000], "labels": false, "title": null, "domain": false}},
       "y": {"field": "dhi", "type": "quantitative", "scale": {"domain": [-3, 3], "nice": false}, "axis": {"orient": "right", "values": [-3,-1,1,3], "labelExpr": "datum.value + ''", "title": "downhole displacement, m", "labelColor": "#e83a3a", "titleColor": "#e83a3a", "domainColor": "#f09090", "tickColor": "#f09090"}},
       "y2": {"field": "dlo"}}},
    {"data": {"name": "spk"}, "transform": [{"filter": "datum.s == 'd'"}], "mark": {"type": "rule", "strokeWidth": 1.3},
     "encoding": {"x": {"field": "t", "type": "quantitative", "scale": {"domain": [2165, 11300], "nice": false, "zero": false}}, "y": {"field": "v", "type": "quantitative"}, "y2": {"datum": 0.2},
       "color": {"datum": "downhole", "type": "nominal"}}}
  ]},
  {"layer": [
    {"data": {"values": [
      {"x":2165,"x2":11300,"y":2.67,"y2":2.67},
      {"x":5000,"x2":5500,"y":0.65,"y2":0.65},
      {"x":5000,"x2":5000,"y":0.65,"y2":0.77},
      {"x":5500,"x2":5500,"y":0.65,"y2":0.77},
      {"x":10580,"x2":11080,"y":0.65,"y2":0.65},
      {"x":10580,"x2":10580,"y":0.65,"y2":0.77},
      {"x":11080,"x2":11080,"y":0.65,"y2":0.77},
      {"x":5000,"x2":2165,"y":0.65,"y2":-1.228},
      {"x":5500,"x2":6107,"y":0.65,"y2":-1.228},
      {"x":10580,"x2":7358,"y":0.65,"y2":-1.228},
      {"x":11080,"x2":11300,"y":0.65,"y2":-1.228}]},
     "mark": {"type": "rule", "color": "#222", "strokeWidth": 1.3},
     "encoding": {
       "x": {"field": "x", "type": "quantitative", "scale": {"domain": [2165, 11300], "nice": false, "zero": false}, "axis": null},
       "x2": {"field": "x2"},
       "y": {"field": "y", "type": "quantitative", "scale": {"domain": [0, 3], "nice": false}, "axis": null},
       "y2": {"field": "y2"}}},
    {"data": {"values": [{"x":2165,"y":2.67},{"x":10409,"y":2.67}]},
     "mark": {"type": "point", "shape": "M0,0L2,-0.5L2,0.5Z", "size": 529, "filled": true, "color": "#111", "opacity": 1},
     "encoding": {
       "x": {"field": "x", "type": "quantitative", "scale": {"domain": [2165, 11300], "nice": false, "zero": false}, "axis": null},
       "y": {"field": "y", "type": "quantitative", "scale": {"domain": [0, 3], "nice": false}, "axis": null}}},
    {"data": {"values": [{"x":10386,"y":2.67},{"x":11300,"y":2.67}]},
     "mark": {"type": "point", "shape": "M0,0L-2,-0.5L-2,0.5Z", "size": 529, "filled": true, "color": "#111", "opacity": 1},
     "encoding": {
       "x": {"field": "x", "type": "quantitative", "scale": {"domain": [2165, 11300], "nice": false, "zero": false}, "axis": null},
       "y": {"field": "y", "type": "quantitative", "scale": {"domain": [0, 3], "nice": false}, "axis": null}}},
    {"data": {"values": [{"x":5069,"y":2.85,"label":"heave on"},{"x":10853,"y":2.85,"label":"heave off"}]},
     "mark": {"type": "text", "fontSize": 23, "color": "#111", "baseline": "middle", "align": "center"},
     "encoding": {
       "x": {"field": "x", "type": "quantitative", "scale": {"domain": [2165, 11300], "nice": false, "zero": false}, "axis": null},
       "y": {"field": "y", "type": "quantitative", "scale": {"domain": [0, 3], "nice": false}, "axis": null},
       "text": {"field": "label"}}},
    {"data": {"values": [{"x":6539,"y":3.39,"label":"MGT\u00a0 data - Hole 1261B\u00a0 Leg 207"}]},
     "mark": {"type": "text", "fontSize": 31, "color": "#1a1a1a", "baseline": "middle", "align": "center"},
     "encoding": {
       "x": {"field": "x", "type": "quantitative", "scale": {"domain": [2165, 11300], "nice": false, "zero": false}, "axis": null},
       "y": {"field": "y", "type": "quantitative", "scale": {"domain": [0, 3], "nice": false}, "axis": null},
       "text": {"field": "label"}}},
    {"data": {"values": [{"x":1847,"y":3.45,"label":"(a)"},{"x":1847,"y":-0.14,"label":"(b)"}]},
     "mark": {"type": "text", "fontSize": 27, "fontWeight": "bold", "color": "#111", "baseline": "middle", "align": "center"},
     "encoding": {
       "x": {"field": "x", "type": "quantitative", "scale": {"domain": [2165, 11300], "nice": false, "zero": false}, "axis": null},
       "y": {"field": "y", "type": "quantitative", "scale": {"domain": [0, 3], "nice": false}, "axis": null},
       "text": {"field": "label"}}}
  ]}
 ],
 "resolve": {"scale": {"y": "independent"}, "axis": {"x": "independent", "y": "independent"}}
},
{
 "bounds": "flush",
 "spacing": 165,
 "resolve": {"scale": {"color": "independent"}},
 "hconcat": [
  {
   "width": 520, "height": 270,
   "layer": [
    {"data": {"name": "on"}, "mark": {"type": "line", "strokeWidth": 1.6},
     "encoding": {
      "x": {"field": "f", "type": "quantitative", "scale": {"domain": [0, 0.25], "nice": false}, "axis": {"values": [0,0.05,0.1,0.15,0.2,0.25], "labelExpr": "format(datum.value, '~g')", "title": "frequency, Hz", "domain": false}},
      "y": {"field": "a", "type": "quantitative", "scale": {"domain": [0, 0.007], "nice": false}, "axis": {"values": [0,0.002,0.004,0.006], "labelExpr": "format(datum.value*1000, 'd')", "title": "amplitude", "domain": false}},
      "color": {"field": "s", "type": "nominal", "scale": {"domain": ["uphole", "downhole"], "range": ["#3232c8", "#e04848"]}, "legend": {"title": null, "orient": "none", "legendX": 340, "legendY": 182}}}},
    {"data": {"values": [{"f":0.0173,"a":0.00604,"label":"HMC on"}]},
     "mark": {"type": "text", "align": "left", "baseline": "middle", "fontSize": 24, "fontWeight": "bold", "fontStyle": "italic", "color": "#111"},
     "encoding": {
      "x": {"field": "f", "type": "quantitative", "scale": {"domain": [0, 0.25], "nice": false}, "axis": {"orient": "top", "values": [0,0.05,0.1,0.15,0.2,0.25], "labels": false, "title": null, "domain": false}},
      "y": {"field": "a", "type": "quantitative", "scale": {"domain": [0, 0.007], "nice": false}, "axis": {"orient": "right", "values": [0,0.002,0.004,0.006], "labels": false, "title": null, "domain": false}},
      "text": {"field": "label"}}},
    {"data": {"values": [{"f":0.142,"a":0.00544,"label":"0.0066 @ 0.12 Hz"},{"f":0.142,"a":0.00329,"label":"0.0014 @ .098 Hz"}]},
     "mark": {"type": "text", "align": "left", "baseline": "middle", "fontSize": 24.5, "color": "#111"},
     "encoding": {
      "x": {"field": "f", "type": "quantitative", "axis": null},
      "y": {"field": "a", "type": "quantitative", "axis": null},
      "text": {"field": "label"}}},
    {"data": {"values": [{"f":0,"a":0.0075,"label":"x 10"}]},
     "mark": {"type": "text", "align": "left", "baseline": "middle", "fontSize": 22, "color": "#111"},
     "encoding": {"x": {"field": "f", "type": "quantitative", "axis": null}, "y": {"field": "a", "type": "quantitative", "axis": null}, "text": {"field": "label"}}},
    {"data": {"values": [{"f":0.0222,"a":0.0078,"label":"-3"}]},
     "mark": {"type": "text", "align": "left", "baseline": "middle", "fontSize": 15, "color": "#111"},
     "encoding": {"x": {"field": "f", "type": "quantitative", "axis": null}, "y": {"field": "a", "type": "quantitative", "axis": null}, "text": {"field": "label"}}},
    {"data": {"values": [{"f":0.1404,"a":0.00583,"f2":0.1135,"a2":0.00645},{"f":0.1394,"a":0.00341,"f2":0.1,"a2":0.0013}]},
     "mark": {"type": "rule", "color": "#222", "strokeWidth": 1.3},
     "encoding": {"x": {"field": "f", "type": "quantitative", "axis": null}, "x2": {"field": "f2"}, "y": {"field": "a", "type": "quantitative", "axis": null}, "y2": {"field": "a2"}}},
    {"data": {"values": [{"f":0.1135,"a":0.00645}]},
     "mark": {"type": "point", "shape": "M0,0L-0.6,2L0.6,2Z", "size": 100, "filled": true, "color": "#111", "opacity": 1, "angle": 293},
     "encoding": {"x": {"field": "f", "type": "quantitative", "axis": null}, "y": {"field": "a", "type": "quantitative", "axis": null}}},
    {"data": {"values": [{"f":0.1,"a":0.0013}]},
     "mark": {"type": "point", "shape": "M0,0L-0.6,2L0.6,2Z", "size": 100, "filled": true, "color": "#111", "opacity": 1, "angle": 225},
     "encoding": {"x": {"field": "f", "type": "quantitative", "axis": null}, "y": {"field": "a", "type": "quantitative", "axis": null}}}
   ],
   "resolve": {"axis": {"x": "independent", "y": "independent"}}
  },
  {
   "width": 520, "height": 270,
   "layer": [
    {"data": {"name": "off"}, "mark": {"type": "line", "strokeWidth": 1.6},
     "encoding": {
      "x": {"field": "f", "type": "quantitative", "scale": {"domain": [0, 0.25], "nice": false}, "axis": {"values": [0,0.05,0.1,0.15,0.2,0.25], "labelExpr": "format(datum.value, '~g')", "title": "frequency, Hz", "domain": false}},
      "y": {"field": "a", "type": "quantitative", "scale": {"domain": [0, 0.025], "nice": false}, "axis": {"values": [0,0.01,0.02], "labelExpr": "datum.value == 0 ? '0' : format(datum.value, '.2f')", "title": "amplitude", "titlePadding": -20, "domain": false}},
      "color": {"field": "s", "type": "nominal", "scale": {"domain": ["uphole", "downhole"], "range": ["#3232c8", "#e04848"]}, "legend": {"title": null, "orient": "none", "legendX": 340, "legendY": 207}}}},
    {"data": {"values": [{"f":0.0159,"a":0.02157,"label":"HMC off"}]},
     "mark": {"type": "text", "align": "left", "baseline": "middle", "fontSize": 24, "fontWeight": "bold", "fontStyle": "italic", "color": "#111"},
     "encoding": {
      "x": {"field": "f", "type": "quantitative", "scale": {"domain": [0, 0.25], "nice": false}, "axis": {"orient": "top", "values": [0,0.05,0.1,0.15,0.2,0.25], "labels": false, "title": null, "domain": false}},
      "y": {"field": "a", "type": "quantitative", "scale": {"domain": [0, 0.025], "nice": false}, "axis": {"orient": "right", "values": [0,0.01,0.02], "labels": false, "title": null, "domain": false}},
      "text": {"field": "label"}}},
    {"data": {"values": [{"f":0.1423,"a":0.0225,"label":"0.024 @ 0.11 Hz"},{"f":0.1423,"a":0.01083,"label":"0.0061 @ 0.12 Hz"}]},
     "mark": {"type": "text", "align": "left", "baseline": "middle", "fontSize": 24.5, "color": "#111"},
     "encoding": {
      "x": {"field": "f", "type": "quantitative", "axis": null},
      "y": {"field": "a", "type": "quantitative", "axis": null},
      "text": {"field": "label"}}},
    {"data": {"values": [{"f":0.1375,"a":0.02315,"f2":0.1062,"a2":0.0241},{"f":0.1466,"a":0.00972,"f2":0.1216,"a2":0.00676}]},
     "mark": {"type": "rule", "color": "#222", "strokeWidth": 1.3},
     "encoding": {"x": {"field": "f", "type": "quantitative", "axis": null}, "x2": {"field": "f2"}, "y": {"field": "a", "type": "quantitative", "axis": null}, "y2": {"field": "a2"}}},
    {"data": {"values": [{"f":0.1062,"a":0.0241}]},
     "mark": {"type": "point", "shape": "M0,0L-0.6,2L0.6,2Z", "size": 100, "filled": true, "color": "#111", "opacity": 1, "angle": 279},
     "encoding": {"x": {"field": "f", "type": "quantitative", "axis": null}, "y": {"field": "a", "type": "quantitative", "axis": null}}},
    {"data": {"values": [{"f":0.1216,"a":0.00676}]},
     "mark": {"type": "point", "shape": "M0,0L-0.6,2L0.6,2Z", "size": 100, "filled": true, "color": "#111", "opacity": 1, "angle": 238},
     "encoding": {"x": {"field": "f", "type": "quantitative", "axis": null}, "y": {"field": "a", "type": "quantitative", "axis": null}}}
   ],
   "resolve": {"axis": {"x": "independent", "y": "independent"}}
  }
 ]
}
]
}
